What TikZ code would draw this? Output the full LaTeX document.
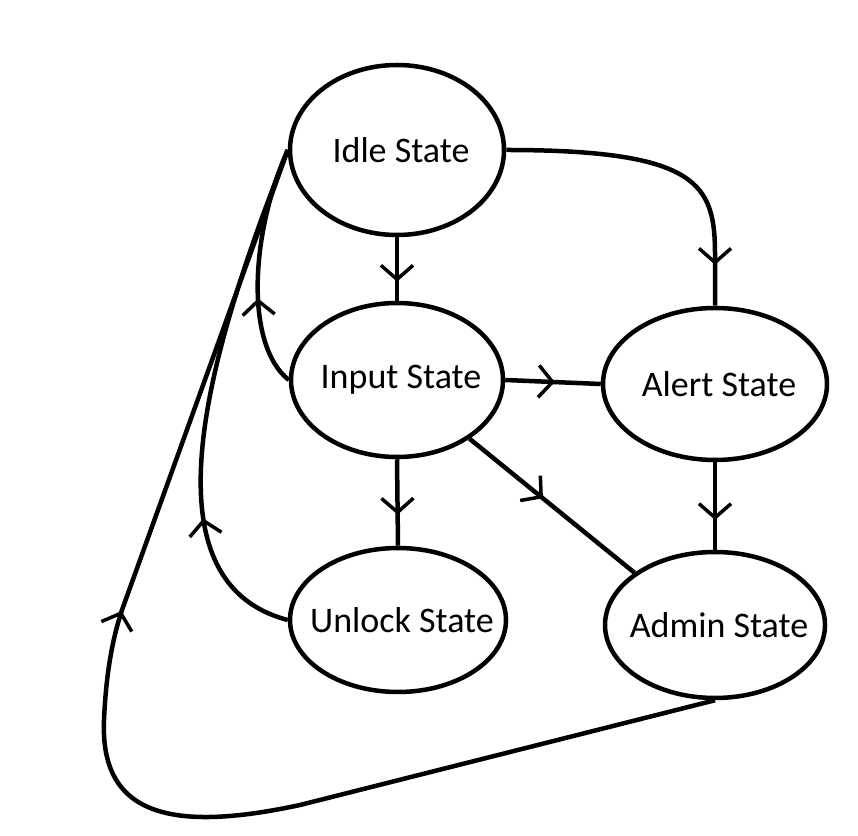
\documentclass[tikz,border=0pt]{standalone}
\usepackage{fontspec}
\setmainfont{Carlito}
\usetikzlibrary{shapes.geometric, arrows.meta, decorations.markings}

\tikzset{
	state/.style = {ellipse, draw, line width = 4.5pt, inner sep = 0pt},
	statetext/.style = {font = \fontsize{36}{42}\selectfont, xshift = 4pt},
	link/.style = {line width = 4.5pt},
	barbat/.style = {postaction = {decorate}, decoration = {markings, mark = at position #1 with {\arrow{Straight Barb[length = 14pt, width = 32pt, line width = 3.5pt]}}}}
}

\begin{document}
\begin{tikzpicture}[x = 1pt, y = 1pt]
	%	canvas
	\useasboundingbox (0, 0) rectangle (858, 835);
	
	%	states
	\node[state, minimum width = 214pt, minimum height = 170pt, label = {[statetext, name = idletext]center:Idle State}] (idle) at (397, 685) {};
	\node[state, minimum width = 212pt, minimum height = 154pt, label = {[statetext, name = inputtext]center:Input State}] (input) at (397, 455) {};
	\node[state, minimum width = 224pt, minimum height = 152pt, label = {[statetext, name = alerttext]center:Alert State}] (alert) at (715, 451) {};
	\node[state, minimum width = 216pt, minimum height = 144pt, label = {[statetext, name = unlocktext]center:Unlock State}] (unlock) at (398, 215) {};
	\node[state, minimum width = 220pt, minimum height = 146pt, label = {[statetext, name = admintext]center:Admin State}] (admin) at (715, 210) {};
	
	%	straight transitions
	\draw[link, barbat = 0.70] (idle.south) -- (input.north);
	\draw[link, barbat = 0.52] (input.east) -- (alert.west);
	\draw[link, barbat = 0.64] (input.south) -- (unlock.north);
	\draw[link, barbat = 0.66] (alert.south) -- (admin.north);
	\draw[link, barbat = 0.445] (input.-39) -- (admin.147);
	
	%	curved transitions
	\draw[link, barbat = -41pt] (idle.east) .. controls (700, 685) and (715, 650) .. (715, 580) -- (alert.north);
	\draw[link, barbat = 0.37] (input.west) .. controls (245, 490) and (250, 600) .. (idle.west);
	\draw[link, barbat = 0.27] (unlock.west) .. controls (135, 255) and (215, 500) .. (idle.west);
	
	%	back to idle - long way round
	\draw[link, barbat = -490pt] (admin.south) -- (300, 30) .. controls (170, 2) and (100, 20) .. (104, 115) .. controls (106, 160) and (112, 195) .. (122, 225) -- (idle.west);
\end{tikzpicture}
\end{document}
